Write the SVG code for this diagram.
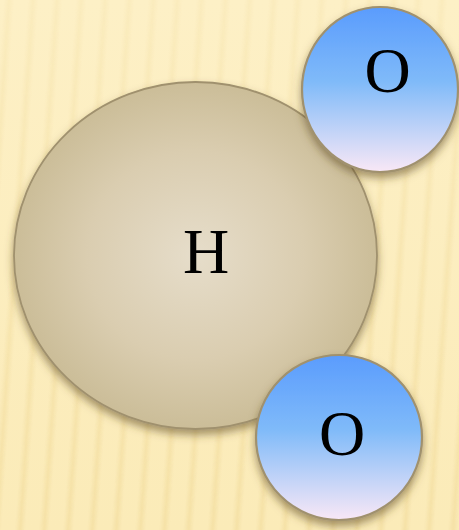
<svg xmlns="http://www.w3.org/2000/svg" width="459" height="530" viewBox="0 0 459 530">
  <defs>
    <linearGradient id="bgGrad" x1="0" y1="0" x2="0" y2="1">
      <stop offset="0" stop-color="#fdf0c6"/>
      <stop offset="1" stop-color="#fbebb8"/>
    </linearGradient>
    <linearGradient id="stripeGrad" x1="0" y1="0" x2="1" y2="0">
      <stop offset="0" stop-color="#f0d998" stop-opacity="0"/>
      <stop offset="0.5" stop-color="#f0d998" stop-opacity="0.55"/>
      <stop offset="1" stop-color="#f0d998" stop-opacity="0"/>
    </linearGradient>
    <pattern id="stripes" x="0" y="0" width="24" height="600" patternUnits="userSpaceOnUse" patternTransform="rotate(4)">
      <rect x="4" y="0" width="10" height="600" fill="url(#stripeGrad)"/>
    </pattern>
    <linearGradient id="fade" x1="0" y1="0" x2="0" y2="1">
      <stop offset="0" stop-color="#fff" stop-opacity="0.35"/>
      <stop offset="1" stop-color="#fff" stop-opacity="1"/>
    </linearGradient>
    <mask id="stripeMask">
      <rect width="459" height="530" fill="url(#fade)"/>
    </mask>
    <radialGradient id="hGrad" cx="0.5" cy="0.5" r="0.5">
      <stop offset="0" stop-color="#e6ddca"/>
      <stop offset="0.6" stop-color="#dacdb0"/>
      <stop offset="1" stop-color="#cbbd98"/>
    </radialGradient>
    <linearGradient id="oGrad" x1="0" y1="0" x2="0" y2="1">
      <stop offset="0" stop-color="#5a9cfd"/>
      <stop offset="0.45" stop-color="#7fbaf9"/>
      <stop offset="1" stop-color="#f9e8f6"/>
    </linearGradient>
    <filter id="shadow" x="-20%" y="-20%" width="140%" height="150%">
      <feDropShadow dx="0" dy="5" stdDeviation="4" flood-color="#5c4a24" flood-opacity="0.55"/>
    </filter>
  </defs>
  <style>
    .atom-h { fill: url(#hGrad); stroke: #a0916e; stroke-width: 1.8; filter: url(#shadow); }
    .atom-o { fill: url(#oGrad); stroke: #a0916e; stroke-width: 2.2; filter: url(#shadow); }
    .label { font-family: "Liberation Serif", "Times New Roman", serif; font-size: 64px; fill: #000; text-anchor: middle; }
  </style>
  <rect width="459" height="530" fill="url(#bgGrad)"/>
  <rect width="459" height="530" fill="url(#stripes)" mask="url(#stripeMask)"/>
  <g id="node-H">
    <ellipse class="atom-h" cx="195.5" cy="255.5" rx="181.5" ry="173.5"/>
    <text class="label" x="206" y="273">H</text>
  </g>
  <g id="node-O-top">
    <ellipse class="atom-o" cx="380" cy="89.5" rx="78" ry="82.5"/>
    <text class="label" x="387.5" y="92">O</text>
  </g>
  <g id="node-O-bottom">
    <ellipse class="atom-o" cx="339" cy="437.5" rx="83" ry="82.5"/>
    <text class="label" x="342" y="455">O</text>
  </g>
</svg>
